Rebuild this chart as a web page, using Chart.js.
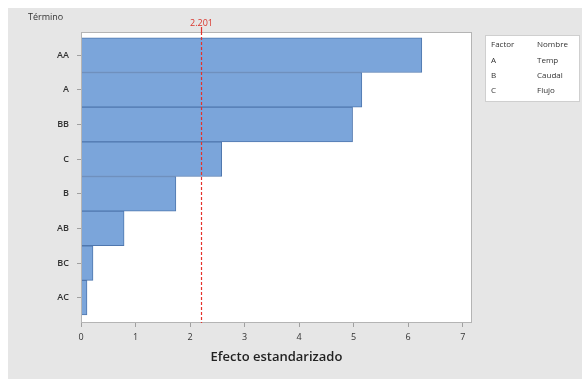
<!DOCTYPE html>
<html><head><meta charset="utf-8">
<script src="https://cdn.jsdelivr.net/npm/chart.js@4/dist/chart.umd.min.js"></script>
<style>html,body{margin:0;padding:0;background:#fff;}#w{width:582px;height:379px;}</style>
</head><body><div id="w"><canvas id="c" width="582" height="379"></canvas></div>
<script>
const terms = ["AA","A","BB","C","B","AB","BC","AC"];
const effects = [6.25, 5.15, 4.98, 2.58, 1.74, 0.79, 0.22, 0.11];
const xTicks = [0,1,2,3,4,5,6,7];
const refValue = 2.201;
const refLabel = "2.201";
const legendHeader = ["Factor","Nombre"];
const factors = ["A","B","C"];
const names = ["Temp","Caudal","Flujo"];

const FONT = "'Open Sans', 'Liberation Sans', sans-serif";

const bgPlugin = {
  id:'bg',
  beforeDraw(chart){
    const {ctx, chartArea:a} = chart;
    ctx.save();
    ctx.fillStyle='#ffffff'; ctx.fillRect(0,0,chart.width,chart.height);
    ctx.fillStyle='#e6e6e6'; ctx.fillRect(8,8,chart.width-8,chart.height-8);
    ctx.fillStyle='#ffffff'; ctx.fillRect(a.left,a.top,a.right-a.left,a.bottom-a.top);
    ctx.restore();
  },
  afterDraw(chart){
    const {ctx, chartArea:a, scales} = chart;
    ctx.save();
    ctx.strokeStyle='#b4b4b4'; ctx.lineWidth=1;
    ctx.strokeRect(a.left+0.5,a.top+0.5,a.right-a.left-1,a.bottom-a.top-1);
    const x = Math.round(scales.x.getPixelForValue(refValue))+0.5;
    ctx.strokeStyle='#e5312a'; ctx.lineWidth=1.2; ctx.setLineDash([3,2]);
    ctx.beginPath(); ctx.moveTo(x,a.top); ctx.lineTo(x,a.bottom); ctx.stroke();
    ctx.setLineDash([]);
    ctx.beginPath(); ctx.moveTo(x,a.top-5); ctx.lineTo(x,a.top); ctx.stroke();
    ctx.fillStyle='#d9342b'; ctx.font='9px '+FONT; ctx.textAlign='center'; ctx.textBaseline='middle';
    ctx.fillText(refLabel,x,a.top-9);
    // Término label
    ctx.fillStyle='#333'; ctx.textAlign='left';
    ctx.fillText('Término',28,17);
    // legend box
    ctx.fillStyle='#ffffff'; ctx.fillRect(485,35,95,67);
    ctx.strokeStyle='#cfcfcf'; ctx.lineWidth=1; ctx.strokeRect(485.5,35.5,94,66);
    ctx.fillStyle='#333'; ctx.font='8px '+FONT; ctx.textAlign='left';
    ctx.fillText(legendHeader[0],491,45); ctx.fillText(legendHeader[1],537,45);
    for(let i=0;i<factors.length;i++){
      ctx.fillText(factors[i],491,61+i*15);
      ctx.fillText(names[i],537,61+i*15);
    }
    ctx.restore();
  }
};

new Chart(document.getElementById('c'),{
  type:'bar',
  data:{
    datasets:[{
      data: effects.map((v,i)=>({x:v,y:i})),
      backgroundColor:'#7ba5da',
      borderColor:'#4f77ae',
      borderWidth:1,
      barPercentage:1,
      categoryPercentage:1
    }]
  },
  options:{
    indexAxis:'y',
    responsive:false,
    animation:false,
    layout:{padding:{left:0,top:32,right:110,bottom:0}},
    plugins:{legend:{display:false},tooltip:{enabled:false}},
    scales:{
      x:{
        type:'linear', min:0, max:7.17,
        afterFit(s){ s.height=56; },
        afterBuildTicks(s){ s.ticks = xTicks.map(v=>({value:v})); },
        grid:{drawOnChartArea:false, drawTicks:true, tickLength:4, color:'#a0a0a0'},
        border:{display:false},
        ticks:{font:{size:9,family:FONT}, color:'#333', padding:5, includeBounds:false},
        title:{display:true, text:'Efecto estandarizado', font:{size:13,family:FONT,weight:'600'}, color:'#222', padding:{top:0,bottom:14}}
      },
      y:{
        type:'linear', reverse:true, min:-0.67, max:7.73, offset:false,
        afterFit(s){ s.width=81; },
        afterBuildTicks(s){ s.ticks = terms.map((t,i)=>({value:i})); },
        grid:{drawOnChartArea:false, drawTicks:true, tickLength:4, color:'#a0a0a0', offset:false},
        border:{display:false},
        ticks:{font:{size:9,family:FONT,weight:'600'}, color:'#333', padding:8,
          callback:(v)=>terms[v]}
      }
    }
  },
  plugins:[bgPlugin]
});
</script>
</body></html>
